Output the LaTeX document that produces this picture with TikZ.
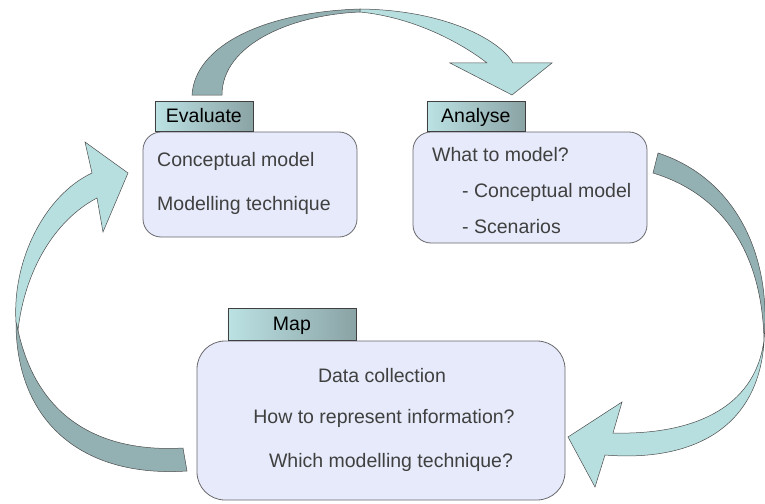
\documentclass[tikz,border=0pt]{standalone}
\usepackage{fontspec}
\setmainfont{Liberation Sans}
\usepackage{tikz}
\definecolor{boxfill}{RGB}{230,234,250}
\definecolor{boxline}{RGB}{105,105,110}
\definecolor{tabL}{RGB}{188,226,228}
\definecolor{tabR}{RGB}{138,163,165}
\definecolor{arrowL}{RGB}{184,223,224}
\definecolor{arrowD}{RGB}{147,177,179}
\definecolor{txt}{RGB}{64,64,64}

\begin{document}
\begin{tikzpicture}[x=1pt, y=-1pt,
  every node/.style={font=\fontsize{19.5}{23}\selectfont},
  box/.style={draw=boxline, fill=boxfill, rounded corners=18pt, line width=0.8pt, inner sep=0pt},
  tab/.style={draw=black!75, left color=tabL, right color=tabR, line width=0.6pt, inner sep=0pt,
    minimum width=98pt, minimum height=30pt, text height=15pt, text depth=3pt},
  item/.style={text=txt, inner sep=0pt},
  front/.style={fill=arrowL, draw=black!70, line width=0.5pt},
  back/.style={fill=arrowD, draw=black!70, line width=0.5pt}]
  \useasboundingbox (0,0) rectangle (765,503);

  \filldraw[back] (192,95) .. controls (195,45) and (265,12) .. (360,9) -- (360,12) .. controls (290,15) and (222,45) .. (222,95) -- cycle;
  \filldraw[front] (360,9) .. controls (445,10) and (500,40) .. (513,63) -- (552,63) -- (512,95) -- (450,63) -- (487,63) .. controls (468,48) and (420,18) .. (360,12) -- cycle;

  \filldraw[back] (658,153) .. controls (735,178) and (772,255) .. (764,340) .. controls (762,255) and (725,195) .. (653,173) -- cycle;
  \filldraw[front] (764,340) .. controls (755,410) and (690,435) .. (613,433) -- (622,402) -- (568,437) -- (595,487) -- (605,455) .. controls (690,462) and (758,430) .. (764,342) -- cycle;

  \filldraw[back] (187,471) .. controls (80,478) and (15,420) .. (16,320) .. controls (35,430) and (115,452) .. (183,448) -- cycle;
  \filldraw[front] (16,322) .. controls (12,260) and (45,195) .. (92,173) -- (85,142) -- (128,173) -- (103,232) -- (97,198) .. controls (55,220) and (25,270) .. (18,330) -- cycle;

  \node[box, minimum width=214pt, minimum height=105pt] (evalbox) at (250,184.5) {};
  \node[tab, anchor=south west] (evaltab) at ([xshift=12pt]evalbox.north west) {Evaluate};
  \node[item, anchor=base west] (conc) at (157,166) {Conceptual model};
  \node[item, anchor=base west] (tech) at (157,210) {Modelling technique};

  \node[box, minimum width=234pt, minimum height=111pt] (anbox) at (530,187.5) {};
  \node[tab, anchor=south west] (antab) at ([xshift=14pt]anbox.north west) {Analyse};
  \node[item, anchor=base west] (what) at (432,161) {What to model?};
  \node[item, anchor=base west] (anconc) at (462,197) {- Conceptual model};
  \node[item, anchor=base west] (scen) at (462,233) {- Scenarios};

  \node[box, rounded corners=28pt, minimum width=368pt, minimum height=159pt] (mapbox) at (381,420.5) {};
  \node[tab, anchor=south west, minimum width=128pt, minimum height=32pt] (maptab) at ([xshift=31pt]mapbox.north west) {Map};
  \node[item, anchor=base] (data) at (382,382) {Data collection};
  \node[item, anchor=base] (info) at (384,423) {How to represent information?};
  \node[item, anchor=base] (which) at (391,467) {Which modelling technique?};
\end{tikzpicture}
\end{document}
